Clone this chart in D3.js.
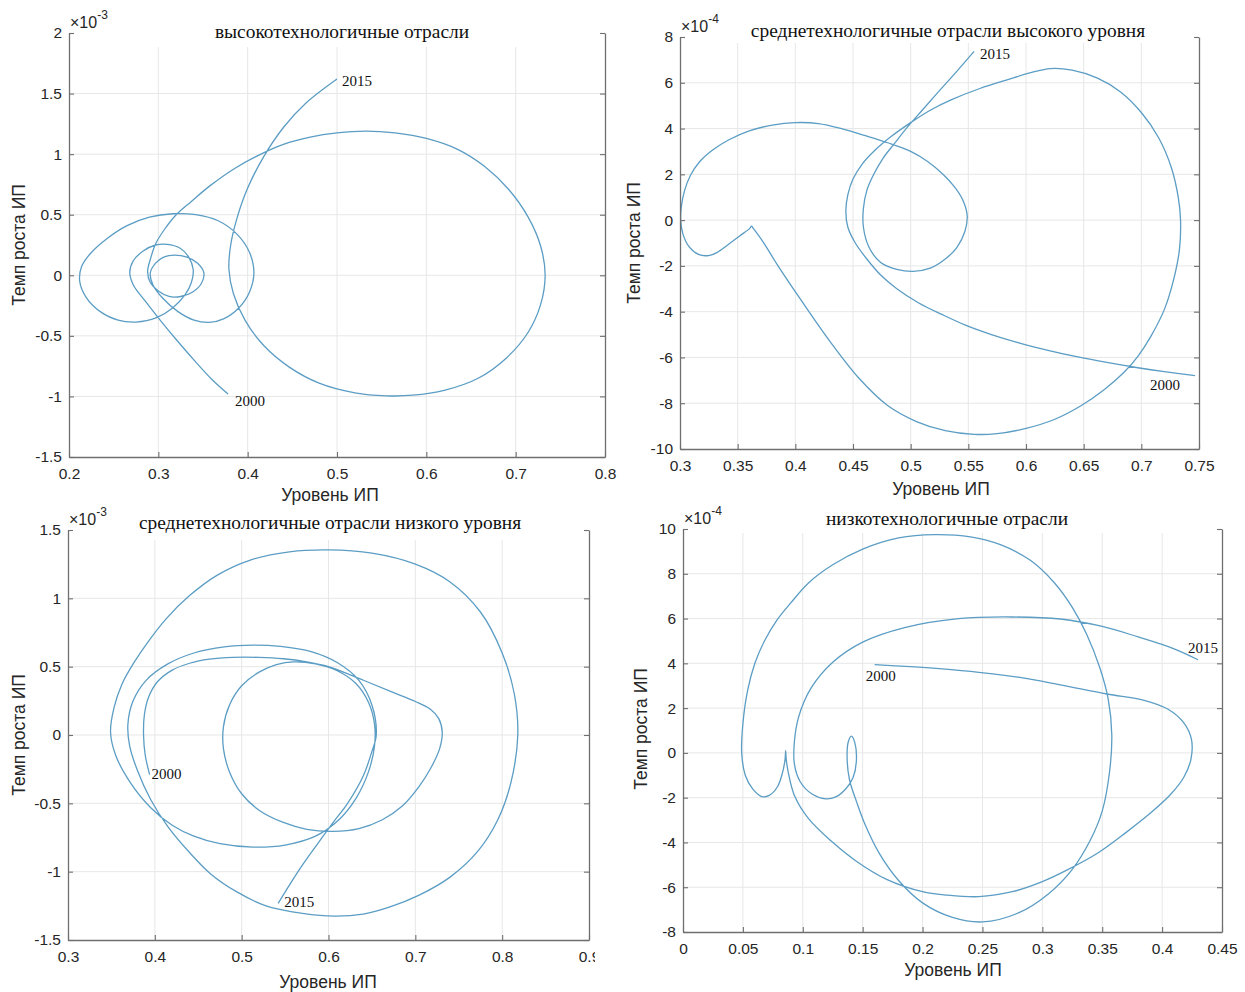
<!DOCTYPE html>
<html><head><meta charset="utf-8">
<script src="https://cdn.jsdelivr.net/npm/d3@7"></script>
<style>body{margin:0;background:#fff}</style>
</head><body>
<svg id="chart" width="1245" height="992" xmlns="http://www.w3.org/2000/svg"></svg>
<script>
// ---------- DATA ----------
const titles = [
  "высокотехнологичные отрасли",
  "среднетехнологичные отрасли высокого уровня",
  "среднетехнологичные отрасли низкого уровня",
  "низкотехнологичные отрасли"
];
const xAxisTitle = "Уровень ИП";
const yAxisTitle = "Темп роста ИП";
const yearStart = "2000", yearEnd = "2015";

// Panel 1: high-tech, [level, growth ×1e-3]
const xTicks1 = [0.2, 0.3, 0.4, 0.5, 0.6, 0.7, 0.8];
const yTicks1 = [-1.5, -1, -0.5, 0, 0.5, 1, 1.5, 2];
const hiTech = [
  [0.378,-0.98],[0.36,-0.86],[0.34,-0.70],[0.32,-0.53],[0.302,-0.37],[0.285,-0.21],[0.272,-0.08],[0.268,0.02],
  [0.272,0.12],[0.283,0.2],[0.297,0.25],[0.31,0.255],[0.324,0.225],[0.334,0.15],[0.339,0.05],[0.337,-0.06],
  [0.33,-0.16],[0.316,-0.27],[0.298,-0.35],[0.275,-0.386],[0.255,-0.37],[0.235,-0.3],[0.219,-0.18],[0.212,-0.05],
  [0.214,0.07],[0.224,0.18],[0.242,0.3],[0.265,0.41],[0.29,0.48],[0.316,0.508],[0.342,0.5],[0.367,0.45],
  [0.388,0.34],[0.402,0.19],[0.407,0.02],[0.402,-0.14],[0.39,-0.27],[0.373,-0.36],[0.357,-0.389],[0.34,-0.37],
  [0.322,-0.3],[0.305,-0.19],[0.294,-0.08],[0.291,0.02],[0.297,0.1],[0.306,0.15],[0.318,0.167],[0.332,0.15],
  [0.344,0.1],[0.351,0.02],[0.348,-0.07],[0.338,-0.14],[0.325,-0.175],[0.312,-0.175],[0.3,-0.13],[0.291,-0.06],
  [0.288,0.03],[0.291,0.13],[0.297,0.26],[0.307,0.38],[0.32,0.5],[0.337,0.61],[0.358,0.74],[0.385,0.88],
  [0.412,0.99],[0.44,1.08],[0.47,1.14],[0.5,1.175],[0.532,1.19],[0.565,1.175],[0.6,1.13],[0.635,1.04],
  [0.665,0.9],[0.692,0.71],[0.714,0.48],[0.728,0.24],[0.733,0.0],[0.728,-0.24],[0.714,-0.47],[0.69,-0.68],
  [0.658,-0.85],[0.62,-0.95],[0.585,-0.99],[0.555,-0.995],[0.52,-0.97],[0.48,-0.89],[0.447,-0.76],[0.418,-0.58],
  [0.397,-0.37],[0.384,-0.15],[0.379,0.05],[0.381,0.25],[0.388,0.47],[0.4,0.72],[0.418,0.98],[0.44,1.22],
  [0.465,1.42],[0.5,1.62]
];

// Panel 2: medium-high tech, [level, growth ×1e-4]
const xTicks2 = [0.3, 0.35, 0.4, 0.45, 0.5, 0.55, 0.6, 0.65, 0.7, 0.75];
const yTicks2 = [-10, -8, -6, -4, -2, 0, 2, 4, 6, 8];
const midHighTech = [
  [0.7466,-6.79],[0.72,-6.62],[0.697,-6.45],[0.67,-6.22],[0.645,-5.98],[0.62,-5.7],[0.593,-5.35],[0.57,-5.0],
  [0.548,-4.6],[0.527,-4.12],[0.507,-3.62],[0.488,-3.0],[0.474,-2.4],[0.462,-1.7],[0.452,-1.0],[0.4455,-0.3],
  [0.4438,0.4],[0.4455,1.1],[0.45,1.8],[0.458,2.45],[0.469,3.05],[0.483,3.65],[0.5,4.26],[0.517,4.8],
  [0.535,5.25],[0.56,5.75],[0.585,6.15],[0.605,6.45],[0.621,6.62],[0.64,6.55],[0.662,6.2],[0.682,5.6],
  [0.7,4.7],[0.715,3.6],[0.726,2.3],[0.732,1.0],[0.734,0],[0.733,-1.3],[0.728,-2.6],[0.72,-3.9],
  [0.708,-5.1],[0.697,-5.95],[0.685,-6.65],[0.668,-7.4],[0.648,-8.1],[0.625,-8.7],[0.6,-9.1],[0.575,-9.33],
  [0.555,-9.36],[0.53,-9.2],[0.505,-8.8],[0.48,-8.1],[0.455,-6.9],[0.43,-5.3],[0.405,-3.5],[0.385,-2.0],
  [0.372,-0.95],[0.3635,-0.36],[0.362,-0.26],[0.3605,-0.36],[0.352,-0.68],[0.341,-1.1],[0.332,-1.42],[0.3247,-1.55],
  [0.316,-1.5],[0.308,-1.17],[0.3025,-0.6],[0.3006,0],[0.3012,0.6],[0.304,1.3],[0.309,1.95],[0.317,2.55],
  [0.328,3.05],[0.342,3.5],[0.36,3.9],[0.38,4.15],[0.4,4.26],[0.42,4.22],[0.44,4.0],[0.46,3.7],
  [0.48,3.38],[0.5,3.0],[0.515,2.55],[0.528,2.0],[0.538,1.45],[0.545,0.9],[0.549,0.2],[0.547,-0.5],
  [0.54,-1.2],[0.53,-1.7],[0.517,-2.1],[0.502,-2.24],[0.488,-2.15],[0.474,-1.85],[0.464,-1.2],[0.459,-0.3],
  [0.459,0.5],[0.462,1.3],[0.468,2.0],[0.476,2.7],[0.486,3.35],[0.497,4.05],[0.51,4.8],[0.524,5.6],
  [0.54,6.5],[0.555,7.37]
];

// Panel 3: medium-low tech, [level, growth ×1e-3]
const xTicks3 = [0.3, 0.4, 0.5, 0.6, 0.7, 0.8, 0.9];
const yTicks3 = [-1.5, -1, -0.5, 0, 0.5, 1, 1.5];
const midLowTech = [
  [0.394,-0.29],[0.389,-0.15],[0.387,0],[0.388,0.15],[0.393,0.28],[0.403,0.39],[0.42,0.475],[0.44,0.525],
  [0.463,0.555],[0.49,0.568],[0.52,0.568],[0.548,0.558],[0.575,0.535],[0.6,0.5],[0.625,0.44],[0.65,0.375],
  [0.675,0.31],[0.7,0.245],[0.717,0.19],[0.727,0.12],[0.731,0.02],[0.728,-0.1],[0.718,-0.24],[0.704,-0.38],
  [0.685,-0.52],[0.662,-0.62],[0.635,-0.685],[0.605,-0.705],[0.575,-0.69],[0.548,-0.64],[0.52,-0.55],[0.5,-0.43],
  [0.486,-0.27],[0.479,-0.1],[0.479,0.06],[0.486,0.22],[0.5,0.36],[0.52,0.46],[0.54,0.515],[0.56,0.535],
  [0.585,0.52],[0.61,0.47],[0.631,0.38],[0.646,0.24],[0.653,0.08],[0.653,-0.08],[0.646,-0.27],[0.632,-0.46],
  [0.612,-0.62],[0.585,-0.74],[0.55,-0.805],[0.513,-0.82],[0.475,-0.795],[0.445,-0.74],[0.42,-0.66],[0.395,-0.53],
  [0.372,-0.35],[0.355,-0.15],[0.349,0.02],[0.353,0.2],[0.362,0.37],[0.375,0.52],[0.392,0.68],[0.413,0.85],
  [0.44,1.02],[0.472,1.17],[0.51,1.28],[0.555,1.34],[0.6,1.354],[0.65,1.33],[0.7,1.25],[0.74,1.12],
  [0.775,0.9],[0.8,0.6],[0.814,0.3],[0.818,0],[0.81,-0.35],[0.795,-0.62],[0.772,-0.85],[0.74,-1.04],
  [0.705,-1.17],[0.67,-1.26],[0.64,-1.31],[0.607,-1.325],[0.57,-1.305],[0.528,-1.25],[0.495,-1.15],[0.465,-1.02],
  [0.44,-0.86],[0.415,-0.67],[0.395,-0.47],[0.38,-0.26],[0.371,-0.08],[0.369,0.08],[0.375,0.25],[0.39,0.4],
  [0.415,0.52],[0.445,0.6],[0.48,0.645],[0.513,0.658],[0.545,0.648],[0.58,0.61],[0.61,0.53],[0.635,0.4],
  [0.65,0.22],[0.655,0],[0.65,-0.12],[0.64,-0.3],[0.622,-0.5],[0.605,-0.643],[0.587,-0.8],[0.567,-0.98],
  [0.542,-1.232]
];

// Panel 4: low tech, [level, growth ×1e-4]
const xTicks4 = [0, 0.05, 0.1, 0.15, 0.2, 0.25, 0.3, 0.35, 0.4, 0.45];
const yTicks4 = [-8, -6, -4, -2, 0, 2, 4, 6, 8, 10];
const lowTech = [
  [0.16,3.94],[0.19,3.85],[0.214,3.76],[0.247,3.6],[0.28,3.38],[0.314,3.05],[0.354,2.63],[0.385,2.35],
  [0.405,1.95],[0.418,1.35],[0.4245,0.6],[0.424,-0.3],[0.418,-1.1],[0.407,-1.86],[0.39,-2.7],[0.37,-3.55],
  [0.347,-4.45],[0.32,-5.25],[0.3,-5.75],[0.275,-6.2],[0.247,-6.42],[0.22,-6.35],[0.2,-6.2],[0.17,-5.65],
  [0.145,-4.85],[0.124,-3.95],[0.105,-2.95],[0.093,-1.9],[0.088,-0.9],[0.0862,-0.3],[0.0857,0.1],[0.0852,-0.3],
  [0.083,-0.9],[0.079,-1.5],[0.072,-1.9],[0.0657,-1.95],[0.058,-1.6],[0.052,-1.0],[0.049,0],[0.05,1.3],
  [0.054,2.8],[0.06,4.0],[0.068,5.0],[0.078,5.9],[0.09,6.7],[0.105,7.6],[0.125,8.4],[0.15,9.1],
  [0.18,9.6],[0.21,9.75],[0.24,9.65],[0.265,9.3],[0.29,8.6],[0.31,7.6],[0.325,6.5],[0.337,5.3],
  [0.348,3.8],[0.355,2.4],[0.358,0.8],[0.356,-0.9],[0.35,-2.6],[0.34,-3.9],[0.325,-5.2],[0.305,-6.3],
  [0.28,-7.15],[0.25,-7.55],[0.225,-7.35],[0.2,-6.7],[0.18,-5.7],[0.164,-4.5],[0.152,-3.2],[0.145,-2.2],
  [0.139,-1.2],[0.137,-0.2],[0.138,0.5],[0.1406,0.75],[0.1435,0.45],[0.1447,-0.4],[0.142,-1.1],[0.136,-1.6],
  [0.128,-1.95],[0.119,-2.05],[0.108,-1.85],[0.098,-1.3],[0.093,-0.5],[0.093,0.5],[0.0965,1.6],[0.107,2.9],
  [0.125,4.05],[0.15,4.95],[0.185,5.6],[0.23,6.0],[0.275,6.07],[0.315,5.98],[0.35,5.65],[0.38,5.18],
  [0.41,4.65],[0.43,4.16]
];

// ---------- LAYOUT ----------
const panels = [
  { title: titles[0], pts: hiTech, xTicks: xTicks1, yTicks: yTicks1, exp: "-3",
    box: {l: 69, r: 605, t: 33, b: 457}, titlePos: [342, 31], coverTo: 14,
    xLabelPos: [330, 495], yLabelPos: [19, 245],
    startLab: [7, 7], endLab: [5, 2] },
  { title: titles[1], pts: midHighTech, xTicks: xTicks2, yTicks: yTicks2, exp: "-4",
    box: {l: 680, r: 1199, t: 37, b: 449}, titlePos: [948, 30], coverTo: 6,
    xLabelPos: [941, 489], yLabelPos: [634, 243],
    startLab: [-45, 9], endLab: [6, 3] },
  { title: titles[2], pts: midLowTech, xTicks: xTicks3, yTicks: yTicks3, exp: "-3",
    box: {l: 68, r: 589, t: 530, b: 940}, titlePos: [330, 522], coverTo: 10,
    xLabelPos: [328, 982], yLabelPos: [19, 735], clipX: 595,
    startLab: [2, -1], endLab: [6, -1] },
  { title: titles[3], pts: lowTech, xTicks: xTicks4, yTicks: yTicks4, exp: "-4",
    box: {l: 683, r: 1222, t: 529, b: 932}, titlePos: [947, 518], coverTo: 4,
    xLabelPos: [953, 970], yLabelPos: [641, 729],
    startLab: [-9, 11], endLab: [-10, -12] }
];

const svg = d3.select("#chart");
const defs = svg.append("defs");
const sans = "'Liberation Sans', Arial, Helvetica, sans-serif";
const serif = "'Liberation Serif', 'Times New Roman', serif";
const axisColor = "#6f6f6f", textColor = "#262626", gridColor = "#e7e7e7", lineColor = "#5b9dc4";

panels.forEach((p, k) => {
  const B = p.box;
  const x = d3.scaleLinear().domain([p.xTicks[0], p.xTicks[p.xTicks.length - 1]]).range([B.l, B.r]);
  const y = d3.scaleLinear().domain([p.yTicks[0], p.yTicks[p.yTicks.length - 1]]).range([B.b, B.t]);
  const g = svg.append("g");

  // grid
  g.append("g").selectAll("line").data(p.xTicks.slice(1, -1)).join("line")
    .attr("x1", d => x(d)).attr("x2", d => x(d)).attr("y1", B.t).attr("y2", B.b)
    .attr("stroke", gridColor).attr("stroke-width", 1);
  g.append("g").selectAll("line").data(p.yTicks.slice(1, -1)).join("line")
    .attr("y1", d => y(d)).attr("y2", d => y(d)).attr("x1", B.l).attr("x2", B.r)
    .attr("stroke", gridColor).attr("stroke-width", 1);

  // curve
  const cid = "clip" + k;
  defs.append("clipPath").attr("id", cid).append("rect")
    .attr("x", B.l).attr("y", B.t).attr("width", B.r - B.l).attr("height", B.b - B.t);
  const line = d3.line().x(d => x(d[0])).y(d => y(d[1])).curve(d3.curveCatmullRom.alpha(0.5));
  g.append("path").datum(p.pts).attr("d", line).attr("fill", "none")
    .attr("stroke", lineColor).attr("stroke-width", 1.3).attr("clip-path", `url(#${cid})`);

  // white band under the title (hides grid tops)
  g.append("rect").attr("x", B.l + 2).attr("y", B.t - 1).attr("width", B.r - B.l - 4)
    .attr("height", 1 + p.coverTo).attr("fill", "#fff");

  // axes
  const fmt = d => String(d);
  const ax = g.append("g").attr("transform", `translate(0,${B.b})`)
    .call(d3.axisBottom(x).tickValues(p.xTicks).tickFormat(fmt).tickSize(-5).tickSizeOuter(0).tickPadding(11));
  if (p.clipX) {
    const xc = "xclip" + k;
    defs.append("clipPath").attr("id", xc).append("rect")
      .attr("x", 0).attr("y", -20).attr("width", p.clipX).attr("height", 60);
    ax.attr("clip-path", `url(#${xc})`);
  }
  const ay = g.append("g").attr("transform", `translate(${B.l},0)`)
    .call(d3.axisLeft(y).tickValues(p.yTicks).tickFormat(fmt).tickSize(-5).tickSizeOuter(0).tickPadding(7));
  const ar = g.append("g").attr("transform", `translate(${B.r},0)`)
    .call(d3.axisRight(y).tickValues(p.yTicks).tickFormat("").tickSize(-5).tickSizeOuter(0));
  [ax, ay, ar].forEach(a => {
    a.select(".domain").attr("stroke", axisColor).attr("stroke-width", 1.3);
    a.selectAll(".tick line").attr("stroke", axisColor).attr("stroke-width", 1.1);
    a.selectAll(".tick text").attr("fill", textColor).style("font-family", sans).style("font-size", "15.5px");
  });

  // exponent label
  const ex = g.append("text").attr("x", B.l + 1).attr("y", B.t - 5)
    .style("font-family", sans).style("font-size", "16px").attr("fill", textColor);
  ex.append("tspan").text("×10");
  ex.append("tspan").attr("dy", -9).style("font-size", "12px").text(p.exp);

  // title
  g.append("text").attr("x", p.titlePos[0]).attr("y", p.titlePos[1])
    .attr("text-anchor", "middle").attr("dominant-baseline", "central")
    .style("font-family", serif).style("font-size", "19.4px").attr("fill", "#111").text(p.title);

  // axis titles
  g.append("text").attr("x", p.xLabelPos[0]).attr("y", p.xLabelPos[1])
    .attr("text-anchor", "middle").attr("dominant-baseline", "central")
    .style("font-family", sans).style("font-size", "17.5px").attr("fill", textColor).text(xAxisTitle);
  g.append("text").attr("transform", `translate(${p.yLabelPos[0]},${p.yLabelPos[1]}) rotate(-90)`)
    .attr("text-anchor", "middle").attr("dominant-baseline", "central")
    .style("font-family", sans).style("font-size", "17.5px").attr("fill", textColor).text(yAxisTitle);

  // year labels
  const first = p.pts[0], last = p.pts[p.pts.length - 1];
  [[first, yearStart, p.startLab], [last, yearEnd, p.endLab]].forEach(([pt, txt, o]) => {
    g.append("text").attr("x", x(pt[0]) + o[0]).attr("y", y(pt[1]) + o[1])
      .attr("dominant-baseline", "central")
      .style("font-family", serif).style("font-size", "15px").attr("fill", "#111").text(txt);
  });
});
</script>
</body></html>
